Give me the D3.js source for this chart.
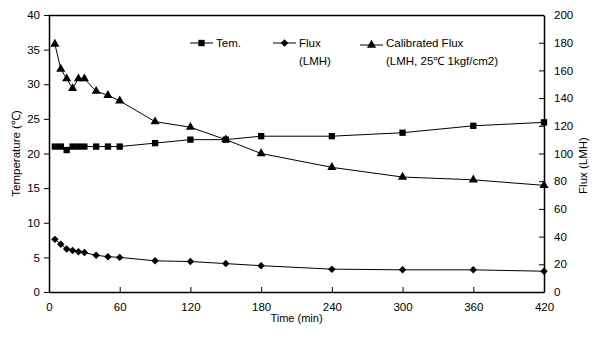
<!DOCTYPE html>
<html>
<head>
<meta charset="utf-8">
<script src="https://cdn.jsdelivr.net/npm/d3@7"></script>
<style>
body { margin: 0; background: #fff; }
text { font-family: "Liberation Sans", Arial, sans-serif; fill: #000; }
</style>
</head>
<body>
<script>
// time points (min)
var times = [5, 10, 15, 20, 25, 30, 40, 50, 60, 90, 120, 150, 180, 240, 300, 360, 420];
// temperature (C), left axis
var temValues = [21, 21, 20.5, 21, 21, 21, 21, 21, 21, 21.5, 22, 22, 22.5, 22.5, 23, 24, 24.5];
// flux (LMH), right axis
var fluxValues = [38, 34.5, 31, 30, 29, 28.5, 26.5, 25.5, 25, 22.5, 22, 20.5, 19, 16.5, 16, 16, 15];
// calibrated flux (LMH), right axis
var calFluxValues = [179, 161, 154, 147, 154, 154, 145, 142, 138, 123, 119, 110, 100, 90, 83, 81, 77];

var xTicks = [0, 60, 120, 180, 240, 300, 360, 420];
var leftTicks = [0, 5, 10, 15, 20, 25, 30, 35, 40];
var rightTicks = [0, 20, 40, 60, 80, 100, 120, 140, 160, 180, 200];

var width = 599, height = 343,
	margin = { top: 15, right: 55, bottom: 51, left: 49 };

var svg = d3.select('body').append('svg')
	.attr('width', width)
	.attr('height', height);

var w = width - margin.left - margin.right,
	h = height - margin.top - margin.bottom;

var x = d3.scaleLinear().domain([0, 420]).range([0, w]),
	yL = d3.scaleLinear().domain([0, 40]).range([h, 0]),
	yR = d3.scaleLinear().domain([0, 200]).range([h, 0]);

var g = svg.append('g')
	.attr('transform', 'translate(' + margin.left + ',' + margin.top + ')');

// top border
g.append('line').attr('x1', 0).attr('x2', w).attr('y1', 0.5).attr('y2', 0.5)
	.attr('stroke', '#000').attr('stroke-width', 1.5);

var xAxis = g.append('g')
	.attr('transform', 'translate(0,' + h + ')')
	.call(d3.axisBottom(x).tickValues(xTicks).tickSizeInner(-5).tickSizeOuter(0).tickPadding(11));

var lAxis = g.append('g')
	.call(d3.axisLeft(yL).tickValues(leftTicks).tickSizeInner(5).tickSizeOuter(0).tickPadding(4));

var rAxis = g.append('g')
	.attr('transform', 'translate(' + w + ',0)')
	.call(d3.axisRight(yR).tickValues(rightTicks).tickSizeInner(-5).tickSizeOuter(0).tickPadding(10));

[xAxis, lAxis, rAxis].forEach(function(a) {
	a.selectAll('.domain').attr('stroke-width', 1.5);
	a.selectAll('text').attr('font-size', 11.5).style('font-family', '"Liberation Sans", Arial, sans-serif');
});

// lines
var lineL = d3.line().x(function(d, i) { return x(times[i]); }).y(function(d) { return yL(d); });
var lineR = d3.line().x(function(d, i) { return x(times[i]); }).y(function(d) { return yR(d); });

g.append('path').datum(temValues).attr('d', lineL).attr('fill', 'none').attr('stroke', '#000').attr('stroke-width', 1);
g.append('path').datum(fluxValues).attr('d', lineR).attr('fill', 'none').attr('stroke', '#000').attr('stroke-width', 1);
g.append('path').datum(calFluxValues).attr('d', lineR).attr('fill', 'none').attr('stroke', '#000').attr('stroke-width', 1);

var sq = d3.symbol().type(d3.symbolSquare).size(40),
	dia = d3.symbol().type(d3.symbolSquare).size(28),
	tri = d3.symbol().type(d3.symbolTriangle).size(36);

g.selectAll('.tem').data(temValues).enter().append('path')
	.attr('class', 'tem')
	.attr('d', sq)
	.attr('transform', function(d, i) { return 'translate(' + x(times[i]) + ',' + yL(d) + ')'; });

g.selectAll('.flux').data(fluxValues).enter().append('path')
	.attr('class', 'flux')
	.attr('d', dia)
	.attr('transform', function(d, i) { return 'translate(' + x(times[i]) + ',' + yR(d) + ') rotate(45)'; });

g.selectAll('.cal').data(calFluxValues).enter().append('path')
	.attr('class', 'cal')
	.attr('d', tri)
	.attr('transform', function(d, i) { return 'translate(' + x(times[i]) + ',' + yR(d) + ')'; });

// axis titles
svg.append('text')
	.attr('transform', 'translate(20,' + (margin.top + h / 2) + ') rotate(-90)')
	.attr('text-anchor', 'middle').attr('font-size', 11.5)
	.text('Temperature (℃)');

svg.append('text')
	.attr('transform', 'translate(587,' + (margin.top + h / 2 + 12) + ') rotate(-90)')
	.attr('text-anchor', 'middle').attr('font-size', 11.5)
	.text('Flux (LMH)');

svg.append('text')
	.attr('x', margin.left + w / 2).attr('y', 322)
	.attr('text-anchor', 'middle').attr('font-size', 11)
	.text('Time (min)');

// legend
var legend = [
	{ sym: sq, rot: 0, x: 190, y: 43, label: ['Tem.'] },
	{ sym: dia, rot: 45, x: 273, y: 43, label: ['Flux', '(LMH)'] },
	{ sym: tri, rot: 0, x: 360, y: 45, label: ['Calibrated Flux', '(LMH, 25℃ 1kgf/cm2)'] }
];

legend.forEach(function(l) {
	var lg = svg.append('g');
	lg.append('line').attr('x1', l.x).attr('x2', l.x + 23).attr('y1', l.y).attr('y2', l.y).attr('stroke', '#000');
	lg.append('path').attr('d', l.sym)
		.attr('transform', 'translate(' + (l.x + 11.5) + ',' + l.y + ') rotate(' + l.rot + ')');
	l.label.forEach(function(t, i) {
		lg.append('text')
			.attr('x', l.x + 26).attr('y', 47 + i * 18)
			.attr('font-size', 11.5)
			.text(t);
	});
});
</script>
</body>
</html>
